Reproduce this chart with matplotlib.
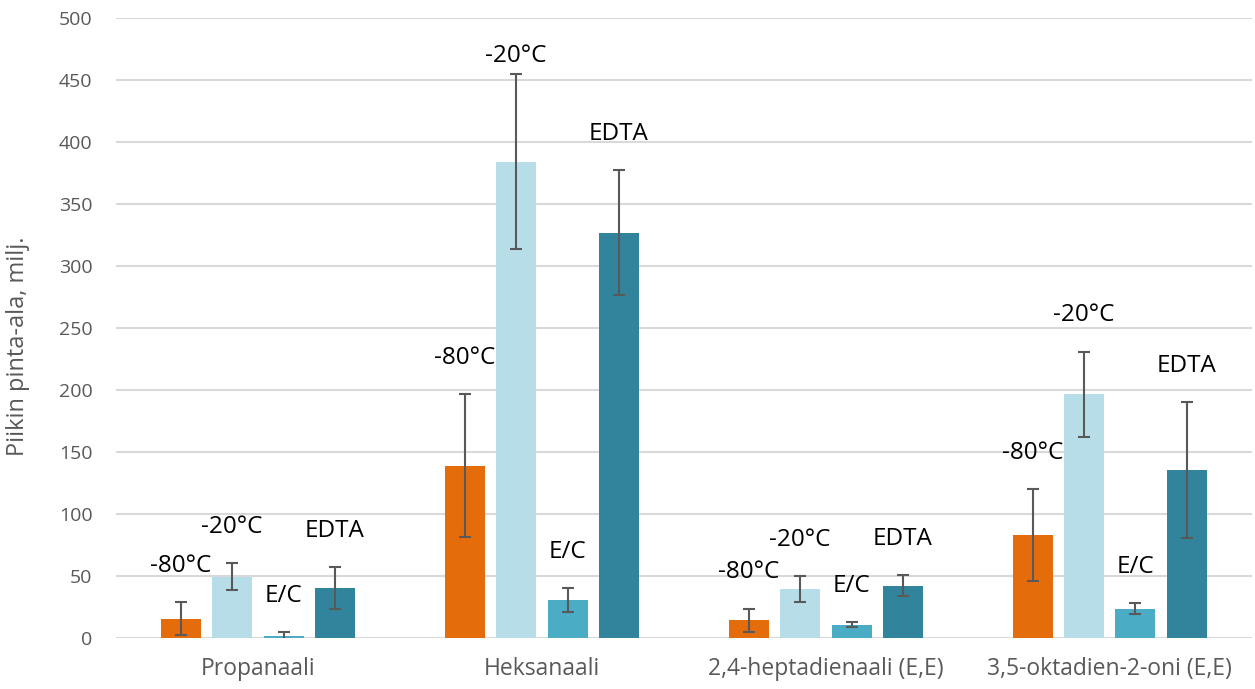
import matplotlib
matplotlib.use('Agg')
import matplotlib.pyplot as plt
import numpy as np

plt.rcParams['font.family'] = ['Open Sans', 'DejaVu Sans']

categories = ['Propanaali', 'Heksanaali', '2,4-heptadienaali (E,E)', '3,5-oktadien-2-oni (E,E)']
series = ['-80°C', '-20°C', 'E/C', 'EDTA']
values = [
    [15.5, 139, 14.5, 83],     # -80°C
    [49.5, 384, 39.5, 196.5],  # -20°C
    [1.5, 30.5, 10.8, 23.8],   # E/C
    [40.5, 327, 42.3, 135.5],  # EDTA
]
errors = [
    [13.3, 57.5, 9.3, 37],
    [10.8, 70.5, 10.6, 34.5],
    [3, 9.5, 2.3, 4.3],
    [17, 50.2, 8.6, 55],
]
colors = ['#E46C0A', '#B7DEE8', '#4BACC6', '#31849B']

fig = plt.figure(figsize=(12.55, 6.89), dpi=100)
ax = fig.add_axes([0.0924, 0.074, 0.905, 0.8999])

x = np.arange(len(categories))
step = 0.181
width = 0.141
for i, name in enumerate(series):
    pos = x + (i - 1.5) * step
    ax.bar(pos, values[i], width, color=colors[i], zorder=3,
           yerr=errors[i], capsize=4.5,
           error_kw=dict(ecolor='#595959', elinewidth=1.5, capthick=1.5, zorder=4))
    for px, v, e in zip(pos, values[i], errors[i]):
        # label sits above the error bar, kept inside the plot area
        top = min(v + e, 440)
        ax.annotate(name, (px, top), xytext=(0, 26), textcoords='offset points',
                    ha='center', va='center', fontsize=17.5, color='black')

ax.set_xlim(-0.5, 3.5)
ax.set_ylim(0, 500)
ax.set_yticks(np.arange(0, 501, 50))
ax.set_xticks(x)
ax.set_xticklabels(categories)
ax.grid(axis='y', color='#D9D9D9', linewidth=1.5, zorder=0)
for s in ['top', 'right', 'left', 'bottom']:
    ax.spines[s].set_visible(False)
ax.tick_params(axis='y', length=0, pad=17, labelsize=14, labelcolor='#595959')
ax.tick_params(axis='x', length=0, pad=14, labelsize=16.5, labelcolor='#595959')
ax.set_ylabel('Piikin pinta-ala, milj.', fontsize=17, color='#595959')
ax.yaxis.set_label_coords(-0.076, 0.47)

fig.savefig('out.png', dpi=100)
